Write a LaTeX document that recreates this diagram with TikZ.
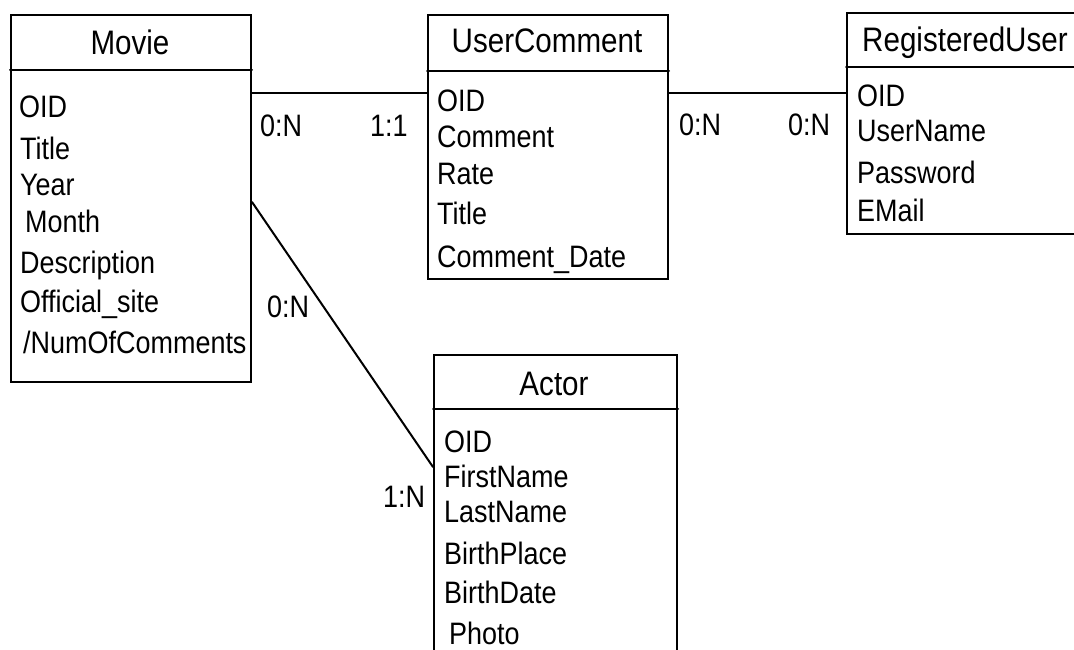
\documentclass[tikz,border=0pt]{standalone}
\usepackage{fontspec}
\setmainfont{Liberation Sans}[FakeStretch=0.87]
\usepackage{tikz}
\usetikzlibrary{calc}

\begin{document}
\begin{tikzpicture}[x=1pt, y=-1pt, style={line cap=round},
  classbox/.style={draw, line width=2pt, rectangle, inner sep=0pt, anchor=north west},
  head/.style={inner sep=0pt, anchor=base, font=\fontsize{34}{40}\selectfont},
  attr/.style={inner sep=0pt, anchor=base west, font=\fontsize{31}{37}\selectfont},
  card/.style={inner sep=0pt, anchor=base west, font=\fontsize{31}{37}\selectfont},
  link/.style={line width=2pt}]
  \useasboundingbox (0,0) rectangle (1074,650);
  % the four classes
  \node[classbox, minimum width=240pt, minimum height=367pt] (movie) at (10,14) {};
  \node[classbox, minimum width=240pt, minimum height=264pt] (comment) at (427,14) {};
  \node[classbox, minimum width=240pt, minimum height=221pt] (user) at (846,12) {};
  \node[classbox, minimum width=243pt, minimum height=310pt] (actor) at (433,354) {};
  \draw[link] (movie.west |- 0,70) -- (movie.east |- 0,70);
  \draw[link] (comment.west |- 0,71) -- (comment.east |- 0,71);
  \draw[link] (user.west |- 0,67) -- (user.east |- 0,67);
  \draw[link] (actor.west |- 0,409) -- (actor.east |- 0,409);
  \node[head] (movie head) at (130,55) {Movie};
  \node[head] (comment head) at (547,53) {UserComment};
  \node[head, anchor=base west] (user head) at (862,52) {RegisteredUser};
  \node[head] (actor head) at (554,395) {Actor};
  % attributes
  \foreach \t/\x/\y [count=\i] in {OID/19/118, Title/20/160, Year/20/196, Month/25/233,
      Description/20/273, Official\_site/20/312, {/NumOfComments}/23/353}
    \node[attr] (movie a\i) at (\x,\y) {\t};
  \foreach \t/\y [count=\i] in {OID/112, Comment/148, Rate/185, Title/224, Comment\_Date/267}
    \node[attr] (comment a\i) at (437,\y) {\t};
  \foreach \t/\y [count=\i] in {OID/107, UserName/142, Password/183, EMail/222}
    \node[attr] (user a\i) at (857,\y) {\t};
  \foreach \t/\x/\y [count=\i] in {OID/444/452, FirstName/444/487, LastName/444/522,
      BirthPlace/444/564, BirthDate/444/603, Photo/449/644}
    \node[attr] (actor a\i) at (\x,\y) {\t};
  % associations
  \coordinate (mc) at (movie.east |- 0,93);
  \coordinate (ma) at (movie.east |- 0,202);
  \draw[link] (mc) -- (comment.west |- mc);
  \draw[link] (comment.east |- mc) -- (user.west |- mc);
  \draw[link] (ma) -- (actor.west |- 0,467);
  \node[card] (c1) at (260,137) {0:N};
  \node[card] (c2) at (370,137) {1:1};
  \node[card] (c3) at (679,136) {0:N};
  \node[card] (c4) at (788,136) {0:N};
  \node[card] (c5) at (267,317) {0:N};
  \node[card] (c6) at (383,507) {1:N};
\end{tikzpicture}
\end{document}
